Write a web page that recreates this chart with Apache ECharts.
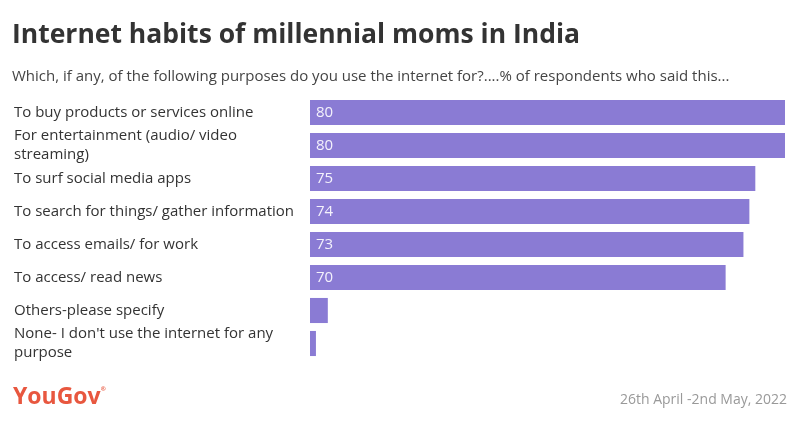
<!DOCTYPE html>
<html>
<head>
<meta charset="utf-8">
<script src="https://cdn.jsdelivr.net/npm/echarts@6/dist/echarts.min.js"></script>
<style>
html,body{margin:0;padding:0;background:#fff;}
#chart{width:800px;height:425px;}
</style>
</head>
<body>
<div id="chart"></div>
<script>
const titleText = 'Internet habits of millennial moms in India';
const subtitleText = 'Which, if any, of the following purposes do you use the internet for?....% of respondents who said this...';
const categories = [
  'To buy products or services online',
  'For entertainment (audio/ video streaming)',
  'To surf social media apps',
  'To search for things/ gather information',
  'To access emails/ for work',
  'To access/ read news',
  'Others-please specify',
  "None- I don't use the internet for any purpose"
];
const values = [80, 80, 75, 74, 73, 70, 3, 1];
const labelThreshold = 10;
const sourceText = 'YouGov';
const dateText = '26th April -2nd May, 2022';

const chart = echarts.init(document.getElementById('chart'), null, {renderer: 'canvas'});
const FONT = '"Open Sans", Lato, sans-serif';
chart.setOption({
  animation: false,
  backgroundColor: '#fff',
  title: [
    {text: titleText, left: 12, top: 22, padding: 0, textStyle: {fontFamily: FONT, fontSize: 26.5, fontWeight: 'bold', color: '#333'}},
    {text: subtitleText, left: 12, top: 69, padding: 0, textStyle: {fontFamily: FONT, fontSize: 15, fontWeight: 'normal', color: '#444'}},
    {text: '{a|' + sourceText + '}{r|®}', left: 13, top: 386, padding: 0, textStyle: {rich: {
      a: {fontFamily: FONT, fontSize: 23, fontWeight: 'bold', color: '#e8573f'},
      r: {fontFamily: FONT, fontSize: 6, color: '#e8573f', verticalAlign: 'top', padding: [0, 0, 14, 0]}
    }}},
    {text: dateText, right: 13, top: 393, padding: 0, textStyle: {fontFamily: FONT, fontSize: 14, fontWeight: 'normal', color: '#999'}}
  ],
  grid: {left: 310, right: 15, top: 96, bottom: 65},
  xAxis: {type: 'value', min: 0, max: 80, show: false},
  yAxis: {
    type: 'category', inverse: true, data: categories,
    axisLine: {show: false}, axisTick: {show: false},
    axisLabel: {
      align: 'left', margin: 296, fontFamily: FONT, fontSize: 15, color: '#333',
      width: 288, overflow: 'break', lineHeight: 19
    }
  },
  series: [{
    type: 'bar', data: values, barCategoryGap: '24%',
    itemStyle: {color: '#8a7bd4'},
    label: {
      show: true, position: 'insideLeft', distance: 6,
      fontFamily: FONT, fontSize: 15, color: '#f4f2fc',
      formatter: p => p.value >= labelThreshold ? String(p.value) : ''
    }
  }]
});
</script>
</body>
</html>
